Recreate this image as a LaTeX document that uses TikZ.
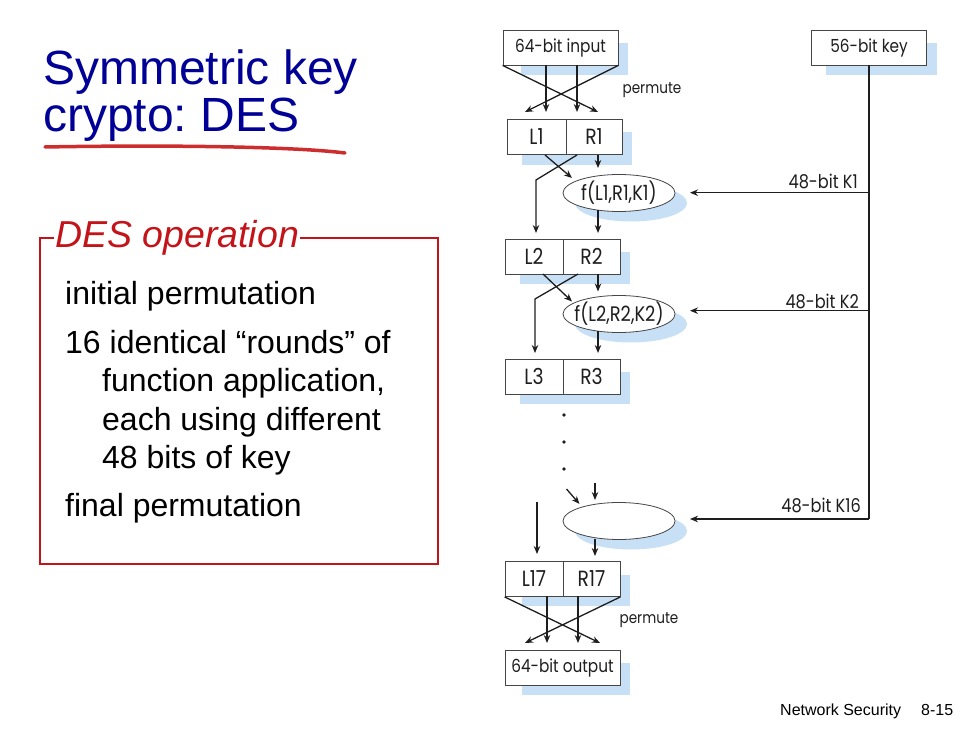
\documentclass[tikz,border=0pt]{standalone}
\usepackage{fontspec}
\setmainfont{Liberation Sans}
\newfontfamily\diag{Poppins}[FakeStretch=0.85]
\usetikzlibrary{arrows.meta,shapes.geometric}
\definecolor{titleblue}{RGB}{0,0,150}
\definecolor{boxred}{RGB}{195,20,25}
\definecolor{penred}{RGB}{205,45,45}
\definecolor{shadowblue}{RGB}{200,224,245}
\definecolor{boxgray}{RGB}{70,70,70}
\definecolor{ink}{RGB}{30,30,30}
\frenchspacing
\begin{document}
\begin{tikzpicture}[x=1pt,y=-1pt,
  box/.style={draw=boxgray, line width=0.8pt, fill=white, minimum height=35pt, inner sep=0pt, font=\diag\fontsize{18}{20}\selectfont, text=ink},
  half/.style={box, font=\diag\fontsize{22}{24}\selectfont},
  fbox/.style={ellipse, draw=boxgray, line width=0.8pt, fill=white, minimum width=112pt, minimum height=37pt, inner xsep=-10pt, inner ysep=0pt, font=\diag\fontsize{21}{23}\selectfont, text=ink},
  lbl/.style={font=\diag\fontsize{19}{21}\selectfont, text=ink, inner sep=0pt},
  plbl/.style={font=\diag\fontsize{16}{18}\selectfont, text=ink, inner sep=0pt},
  arr/.style={draw=ink, line width=1.3pt, -{Stealth[length=8pt,width=6.5pt]}},
  ln/.style={draw=ink, line width=1.3pt},
  body/.style={anchor=base west, inner sep=0pt, font=\fontsize{32}{38}\selectfont},
]
\useasboundingbox (0,0) rectangle (980,735);

% ---------- title ----------
\node[anchor=base west, inner sep=0pt, text=titleblue, font=\fontsize{48}{56}\selectfont] (t1) at (43,85) {Symmetric key};
\node[anchor=base west, inner sep=0pt, text=titleblue, font=\fontsize{48}{56}\selectfont] (t2) at (43,132) {crypto: DES};
\draw[penred, line width=3.5pt, line cap=round] (45,147) .. controls (150,145) and (290,146) .. (345,153);

% ---------- DES operation box ----------
\draw[boxred, line width=1.3pt] (40,238) rectangle (438,564);
\node[anchor=base west, inner sep=1pt, fill=white, text=boxred, font=\itshape\fontsize{37.5}{40}\selectfont] (dh) at (54,248) {DES operation};
\node[body] (b1) at (65,305) {initial permutation};
\node[body] (b2) at (65,353) {16 identical “rounds” of};
\node[body] (b3) at (102,391.5) {function application,};
\node[body] (b4) at (102,430) {each using different};
\node[body] (b5) at (102,468.5) {48 bits of key};
\node[body] (b6) at (65,516) {final permutation};

% ---------- footer ----------
\node[anchor=base west, inner sep=0pt, font=\fontsize{16}{18}\selectfont] (f1) at (780,715) {Network Security};
\node[anchor=base west, inner sep=0pt, font=\fontsize{16}{18}\selectfont] (f2) at (921,715) {8-15};

% ---------- shadows ----------
\fill[shadowblue] (521,43) rectangle (628,75);
\fill[shadowblue] (826,43) rectangle (937,75);
\fill[shadowblue] (522,132) rectangle (632,165);
\fill[shadowblue] (520,252) rectangle (630,284);
\fill[shadowblue] (520,372) rectangle (630,404);
\fill[shadowblue] (522,575) rectangle (630,606);
\fill[shadowblue] (522,663) rectangle (630,695);
\fill[shadowblue] (631,203) ellipse [x radius=56, y radius=18.5];
\fill[shadowblue] (631,324) ellipse [x radius=56, y radius=18.5];
\fill[shadowblue] (631,531) ellipse [x radius=56, y radius=18.5];

% ---------- boxes ----------
\node[box, minimum width=115pt] (in) at (560.5,47.5) {64-bit input};
\node[box, minimum width=115pt] (key) at (869,47.5) {56-bit key};
\node[half, minimum width=59pt] (L1) at (536.5,137) {L1};
\node[half, minimum width=56pt] (R1) at (594,137) {R1};
\node[half, minimum width=58pt] (L2) at (534,256.5) {L2};
\node[half, minimum width=57pt] (R2) at (591.5,256.5) {R2};
\node[half, minimum width=58pt] (L3) at (534,376.5) {L3};
\node[half, minimum width=57pt] (R3) at (591.5,376.5) {R3};
\node[half, minimum width=58pt] (L17) at (534,579) {L17};
\node[half, minimum width=57pt] (R17) at (591.5,579) {R17};
\node[box, minimum width=115pt] (out) at (562.5,667.5) {64-bit output};

\node[fbox] (f1e) at (619,193) {f(L1,R1,K1)};
\node[fbox] (f2e) at (619,314) {f(L2,R2,K2)};
\node[fbox] (f16e) at (619,521) {};

% ---------- labels ----------
\node[plbl] (pm1) at (652,90) {permute};
\node[plbl] (pm2) at (649,620) {permute};
\node[lbl, anchor=east] (k1l) at (858,181) {48-bit K1};
\node[lbl, anchor=east] (k2l) at (859,301) {48-bit K2};
\node[lbl, anchor=east] (k16l) at (861,505) {48-bit K16};

% ---------- dots ----------
\fill[ink] (564,415) circle (1.9);
\fill[ink] (564,442) circle (1.9);
\fill[ink] (564,469) circle (1.9);

% ---------- coordinates ----------
\coordinate (ia) at (525,112);
\coordinate (ib) at (546,112);
\coordinate (ic) at (577,112);
\coordinate (id) at (598,112);
\coordinate (ib0) at (546,65);
\coordinate (ic0) at (577,65);

\coordinate (r1s) at (577,155);
\coordinate (l1s) at (545,155);
\coordinate (r1v) at (598,155);
\coordinate (k1bend) at (536,180);
\coordinate (l2t) at (536,233);
\coordinate (f1in) at (572,178);
\coordinate (f1top) at (598,168);
\coordinate (f1bot) at (598,210);
\coordinate (r2t) at (598,233);

\coordinate (r2s) at (578,274);
\coordinate (l2s) at (543,274);
\coordinate (r2v) at (598,274);
\coordinate (k2bend) at (535,299);
\coordinate (l3t) at (535,353);
\coordinate (f2in) at (572,301.5);
\coordinate (f2top) at (598,291.5);
\coordinate (f2bot) at (598,331);
\coordinate (r3t) at (598,353);

\coordinate (d1a) at (566.5,489);
\coordinate (d1b) at (579.5,504);
\coordinate (d2a) at (595,483);
\coordinate (d2b) at (595,500);
\coordinate (d3a) at (537,502);
\coordinate (d3b) at (537,554);
\coordinate (f16bot) at (595,539);
\coordinate (r17t) at (595,556);

\coordinate (oa) at (525,643);
\coordinate (ob) at (547,643);
\coordinate (oc) at (578,643);
\coordinate (od) at (600,643);
\coordinate (ob0) at (547,596);
\coordinate (oc0) at (578,596);

\coordinate (kv1) at (869,192.7);
\coordinate (kv2) at (869,310.7);
\coordinate (kv16) at (869,519);
\coordinate (ke1) at (690,192.7);
\coordinate (ke2) at (690,310.7);
\coordinate (ke16) at (690,519);

% ---------- connectors ----------
\draw[arr] (in.south west) -- (id);
\draw[arr] (in.south east) -- (ia);
\draw[arr] (ib0) -- (ib);
\draw[arr] (ic0) -- (ic);

\draw[arr] (r1s) -- (k1bend) -- (l2t);
\draw[arr] (l1s) -- (f1in);
\draw[arr] (r1v) -- (f1top);
\draw[arr] (f1bot) -- (r2t);

\draw[arr] (r2s) -- (k2bend) -- (l3t);
\draw[arr] (l2s) -- (f2in);
\draw[arr] (r2v) -- (f2top);
\draw[arr] (f2bot) -- (r3t);

\draw[arr] (d1a) -- (d1b);
\draw[arr] (d2a) -- (d2b);
\draw[arr] (d3a) -- (d3b);
\draw[arr] (f16bot) -- (r17t);

\draw[arr] (L17.south west) -- (od);
\draw[arr] (R17.south east) -- (oa);
\draw[arr] (ob0) -- (ob);
\draw[arr] (oc0) -- (oc);

\draw[ln] (key.south) -- (kv16);
\draw[arr] (kv16) -- (ke16);
\draw[arr] (kv1) -- (ke1);
\draw[arr] (kv2) -- (ke2);
\end{tikzpicture}
\end{document}
